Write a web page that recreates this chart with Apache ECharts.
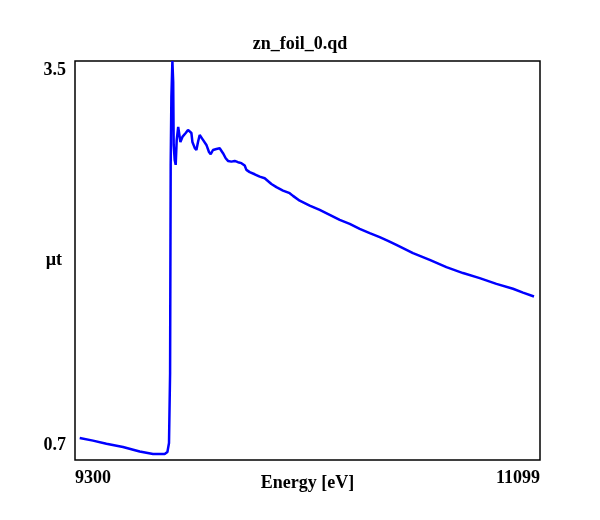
<!DOCTYPE html>
<html>
<head>
<meta charset="utf-8">
<script src="https://cdn.jsdelivr.net/npm/echarts@6/dist/echarts.min.js"></script>
<style>
  html, body { margin: 0; padding: 0; background: #fff; }
  #chart { width: 600px; height: 520px; }
</style>
</head>
<body>
<div id="chart"></div>
<script>
// energy (eV)
var energy = [
  9318.2, 9369.6, 9421.5, 9485.7, 9550.3, 9601.8, 9647.0, 9657.5, 9663.7, 9667.9,
  9670.2, 9672.9, 9676.8, 9679.9, 9681.8, 9685.7, 9689.6, 9693.5, 9699.3, 9703.1,
  9707.8, 9711.6, 9715.5, 9720.5, 9728.3, 9737.2, 9743.7, 9750.3, 9754.2, 9763.1,
  9769.7, 9775.9, 9782.4, 9789.0, 9795.2, 9808.4, 9818.4, 9825.0, 9833.9, 9847.0,
  9859.8, 9866.4, 9872.6, 9883.0, 9891.9, 9905.1, 9917.8, 9930.6, 9943.8, 9956.5,
  9963.1, 9975.9, 9995.2, 10014.6, 10033.9, 10059.8, 10079.2, 10104.7, 10130.6, 10143.4,
  10169.3, 10208.0, 10246.7, 10285.4, 10324.1, 10362.8, 10401.5, 10440.2, 10478.8, 10510.9,
  10543.4, 10607.7, 10672.3, 10736.9, 10801.1, 10865.7, 10930.3, 10994.5, 11033.2, 11075.8
];
// absorption mu*t
var mut = [
  0.814, 0.795, 0.773, 0.750, 0.718, 0.700, 0.700, 0.714, 0.778, 1.279,
  2.760, 3.244, 3.500, 3.350, 2.902, 2.795, 2.760, 2.938, 3.030, 3.044,
  2.923, 2.916, 2.959, 2.973, 2.987, 3.009, 3.023, 2.987, 2.923, 2.881,
  2.866, 2.923, 2.973, 2.966, 2.938, 2.902, 2.852, 2.836, 2.866, 2.873,
  2.878, 2.871, 2.843, 2.807, 2.788, 2.783, 2.788, 2.779, 2.772, 2.755,
  2.724, 2.708, 2.693, 2.676, 2.665, 2.624, 2.601, 2.577, 2.558, 2.539,
  2.505, 2.470, 2.439, 2.404, 2.368, 2.340, 2.304, 2.273, 2.245, 2.219,
  2.190, 2.131, 2.083, 2.031, 1.989, 1.953, 1.912, 1.877, 1.850, 1.822
];
var xTicks = [9300, 11099];
var yTicks = [0.7, 3.5];
var xRange = [9300, 11099];
var yRange = [0.657, 3.5];

var font = 'Liberation Serif';
var chart = echarts.init(document.getElementById('chart'));
chart.setOption({
  animation: false,
  title: {
    text: 'zn_foil_0.qd',
    left: 'center',
    top: 30,
    textStyle: { fontFamily: font, fontWeight: 'bold', fontSize: 18, color: '#000' }
  },
  grid: {
    left: 75, right: 60, top: 61, bottom: 60,
    show: true, borderColor: '#000', borderWidth: 1.5, backgroundColor: '#fff'
  },
  xAxis: {
    type: 'value',
    min: xRange[0], max: xRange[1],
    name: 'Energy [eV]',
    nameLocation: 'middle',
    nameGap: 14,
    nameMoveOverlap: false,
    nameTextStyle: { fontFamily: font, fontWeight: 'bold', fontSize: 18, color: '#000', verticalAlign: 'top' },
    axisLine: { show: false },
    axisTick: { show: false },
    splitLine: { show: false },
    axisLabel: {
      customValues: xTicks,
      margin: 9,
      fontFamily: font, fontWeight: 'bold', fontSize: 18, color: '#000',
      alignMinLabel: 'left', alignMaxLabel: 'right',
      formatter: function (v) { return String(v); }
    }
  },
  yAxis: {
    type: 'value',
    min: yRange[0], max: yRange[1],
    name: 'µt',
    nameLocation: 'middle',
    nameRotate: 0,
    nameGap: 13,
    nameMoveOverlap: false,
    nameTextStyle: { fontFamily: font, fontWeight: 'bold', fontSize: 18, color: '#000' },
    axisLine: { show: false },
    axisTick: { show: false },
    splitLine: { show: false },
    axisLabel: {
      customValues: yTicks,
      margin: 9,
      fontFamily: font, fontWeight: 'bold', fontSize: 18, color: '#000',
      verticalAlign: 'bottom',
      verticalAlignMaxLabel: 'top',
      formatter: function (v) { return v.toFixed(1); }
    }
  },
  series: [{
    type: 'line',
    data: energy.map(function (e, i) { return [e, mut[i]]; }),
    showSymbol: false,
    lineStyle: { color: '#0000ff', width: 2.5 },
    silent: true
  }]
});
</script>
</body>
</html>
